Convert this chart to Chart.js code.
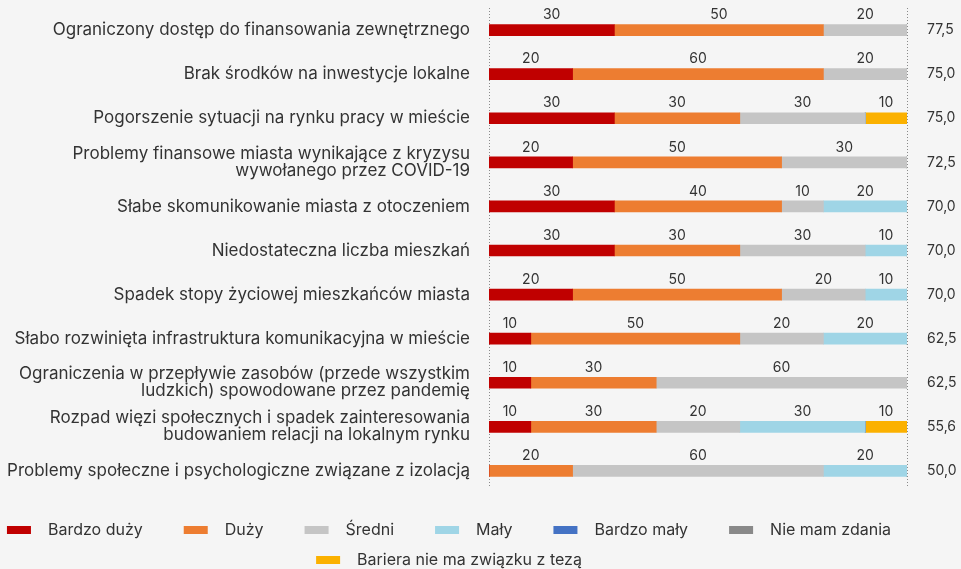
<!DOCTYPE html>
<html>
<head>
<meta charset="utf-8">
<script src="https://cdn.jsdelivr.net/npm/chart.js@4"></script>
<style>
html,body{margin:0;padding:0;background:#f5f5f5;}
#wrap{width:961px;height:569px;position:relative;}
</style>
</head>
<body>
<div id="wrap"><canvas id="c" width="961" height="569"></canvas></div>
<script>
const categories = [
  "Ograniczony dostęp do finansowania zewnętrznego",
  "Brak środków na inwestycje lokalne",
  "Pogorszenie sytuacji na rynku pracy w mieście",
  ["Problemy finansowe miasta wynikające z kryzysu", "wywołanego przez COVID-19"],
  "Słabe skomunikowanie miasta z otoczeniem",
  "Niedostateczna liczba mieszkań",
  "Spadek stopy życiowej mieszkańców miasta",
  "Słabo rozwinięta infrastruktura komunikacyjna w mieście",
  ["Ograniczenia w przepływie zasobów (przede wszystkim", "ludzkich) spowodowane przez pandemię"],
  ["Rozpad więzi społecznych i spadek zainteresowania", "budowaniem relacji na lokalnym rynku"],
  "Problemy społeczne i psychologiczne związane z izolacją"
];
const scores = ["77,5","75,0","75,0","72,5","70,0","70,0","70,0","62,5","62,5","55,6","50,0"];
const seriesNames = ["Bardzo duży","Duży","Średni","Mały","Bardzo mały","Nie mam zdania","Bariera nie ma związku z tezą"];
const bardzoDuzy   = [30,20,30,20,30,30,20,10,10,10,0];
const duzy         = [50,60,30,50,40,30,50,50,30,30,20];
const sredni       = [20,20,30,30,10,30,20,20,60,20,60];
const maly         = [0,0,0,0,20,10,10,20,0,30,20];
const bardzoMaly   = [0,0,0,0,0,0,0,0,0,0,0];
const nieMamZdania = [0,0,0,0,0,0,0,0,0,0,0];
const bariera      = [0,0,10,0,0,0,0,0,0,10,0];
const seriesValues = [bardzoDuzy, duzy, sredni, maly, bardzoMaly, nieMamZdania, bariera];
const colors = ["#c00000","#ed7d31","#c5c5c5","#9fd5e6","#4472c4","#898989","#fbb100"];

const FONT = "Inter, 'Open Sans', sans-serif";
const TXT = "#333333";

const datasets = seriesNames.map((n,i)=>({
  label:n, data:seriesValues[i], backgroundColor:colors[i], borderWidth:0,
  barThickness:11, yAxisID:'y', xAxisID:'x'
}));

const labelsPlugin = {
  id:'vals',
  beforeDatasetsDraw(chart){
    const ctx = chart.ctx, xs = chart.scales.x, a = chart.chartArea;
    ctx.save();
    ctx.strokeStyle = "#8a8a8a"; ctx.lineWidth = 1; ctx.setLineDash([1,2]);
    [0,100].forEach(v=>{
      const x = Math.round(xs.getPixelForValue(v))+0.5;
      ctx.beginPath(); ctx.moveTo(x, a.top); ctx.lineTo(x, a.bottom-6); ctx.stroke();
    });
    ctx.restore();
  },
  afterDatasetsDraw(chart){
    const ctx = chart.ctx;
    ctx.save();
    ctx.font = "14px " + FONT; ctx.fillStyle = TXT;
    ctx.textAlign = "center"; ctx.textBaseline = "middle";
    chart.data.datasets.forEach((ds,di)=>{
      const meta = chart.getDatasetMeta(di);
      meta.data.forEach((el,i)=>{
        const v = ds.data[i];
        if(!v) return;
        const p = el.getProps(['x','y','base'], true);
        ctx.fillText(String(v), (p.x+p.base)/2, p.y-15);
      });
    });
    ctx.restore();
  },
  afterDraw(chart){
    const ctx = chart.ctx;
    ctx.save();
    ctx.font = "16px " + FONT; ctx.textBaseline = "middle";
    const items = chart.data.datasets.map(d=>({t:d.label,c:d.backgroundColor}));
    const rows = [items.slice(0,6), items.slice(6)];
    const rowY = [530, 560];
    const boxW = 24, boxH = 8, gapT = 17, gapI = 41, cx = 449;
    rows.forEach((row,ri)=>{
      const widths = row.map(it=>boxW+gapT+ctx.measureText(it.t).width);
      const total = widths.reduce((s,w)=>s+w,0) + gapI*(row.length-1);
      let x = cx - total/2;
      row.forEach((it,k)=>{
        ctx.fillStyle = it.c;
        ctx.fillRect(x, rowY[ri]-boxH/2, boxW, boxH);
        ctx.fillStyle = TXT; ctx.textAlign = "left";
        ctx.fillText(it.t, x+boxW+gapT, rowY[ri]);
        x += widths[k] + gapI;
      });
    });
    ctx.restore();
  }
};

new Chart(document.getElementById('c'), {
  type:'bar',
  data:{ labels:categories, datasets },
  options:{
    indexAxis:'y',
    responsive:false,
    animation:false,
    layout:{ padding:{ top:8, bottom:76, left:0, right:0 } },
    plugins:{ legend:{display:false}, tooltip:{enabled:false} },
    scales:{
      x:{ stacked:true, min:0, max:100, display:false },
      y:{ stacked:true, position:'left',
          grid:{display:false, drawTicks:false}, border:{display:false},
          ticks:{ color:TXT, font:{family:FONT, size:17, lineHeight:1.0}, padding:19 },
          afterFit(s){ s.width = 489; s.paddingTop = 0; s.paddingBottom = 0; } },
      y2:{ type:'category', labels:scores, position:'right', offset:true,
          grid:{display:false, drawTicks:false}, border:{display:false},
          ticks:{ color:TXT, font:{family:FONT, size:14}, padding:20 },
          afterFit(s){ s.width = 961-907; s.paddingTop = 0; s.paddingBottom = 0; } }
    }
  },
  plugins:[labelsPlugin]
});
</script>
</body>
</html>
